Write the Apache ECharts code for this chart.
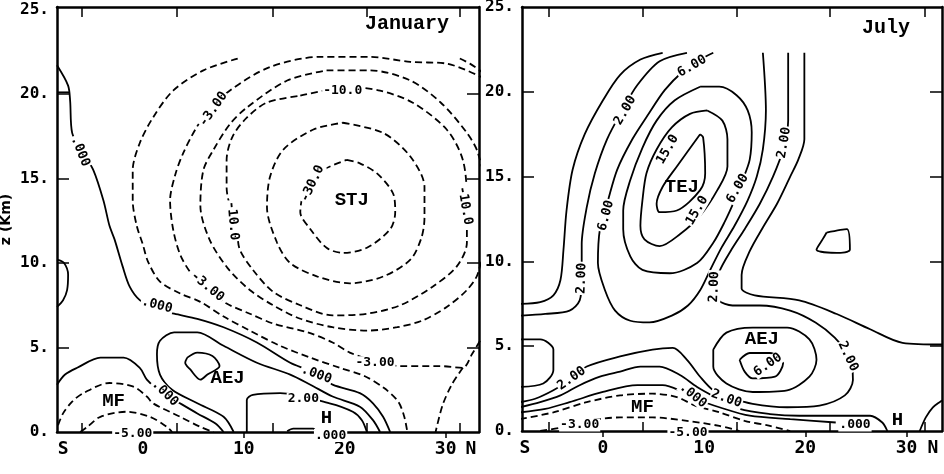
<!DOCTYPE html>
<html><head><meta charset="utf-8">
<script src="https://cdn.jsdelivr.net/npm/echarts@6/dist/echarts.min.js"></script>
<style>html,body{margin:0;padding:0;background:#fff}#c{width:944px;height:474px}</style>
</head><body><div id="c"></div>
<script>
// ---------- axis values ----------
const xTickVals = [0, 10, 20, 30];
const xLabelText = ['S', '0', '10', '20', '30', 'N'];
const janXLabelVals = [-7.9, 0, 10, 20, 30, 32.5];
const julXLabelVals = [-7.7, 0, 10, 20, 30, 32.6];
const janTopTicks = [-6.0, 3.4, 12.9, 22.2, 31.4];
const julTopTicks = [-5.4, 3.9, 13.2, 22.4, 31.8];
const yLabelVals = [0, 5, 10, 15, 20, 25];
const yTickVals = [5, 10, 15, 20];

// ---------- January contours (lat, km) ----------
// dashed (negative)
const janM30 = [[20.2,16.1],[21.5,15.9],[23.2,15.3],[24.8,14.1],[25.0,13.0],[24.5,12.0],[22.2,10.9],[19.8,10.6],[18.2,10.9],[16.6,12.0],[15.6,13.0],[15.9,14.0],[17.6,15.4],[20.2,16.1]];
const janM20 = [[19.8,18.3],[23.8,17.7],[26.5,16.3],[27.9,14.5],[27.9,12.7],[27.6,11.5],[26.5,10.2],[23.8,9.2],[20.5,8.8],[17.3,9.2],[14.6,10.0],[13.3,11.2],[12.3,13.3],[12.6,15.1],[13.9,16.7],[16.9,17.9],[19.8,18.3]];
const janM10 = [[15.6,19.9],[20.5,20.4],[23.5,20.2],[26.7,19.5],[30.1,17.9],[31.7,16.1],[32.1,13.7],[32.1,11.2],[31.1,9.8],[28.7,8.6],[25.5,7.5],[22.2,7.0],[18.8,6.9],[15.6,7.5],[12.9,8.3],[10.9,9.6],[9.6,10.8],[9.3,12.0],[8.3,14.5],[8.3,16.1],[8.9,17.5],[10.3,18.6],[12.3,19.5],[15.6,19.9]];
const janM6 = [[18.2,21.4],[22.5,21.4],[26.5,20.8],[29.5,19.5],[32.1,17.7],[33.2,16.5],[34.4,13.0],[33.2,9.4],[32.1,8.4],[30.1,7.4],[27.7,6.6],[25.2,6.2],[22.2,6.0],[18.8,6.2],[15.6,6.7],[12.9,7.5],[10.6,8.4],[8.4,9.7],[6.6,11.4],[5.7,13.4],[6.0,15.5],[7.0,16.7],[8.6,18.2],[10.3,19.2],[14.3,20.8],[18.2,21.4]];
const janM3 = [[33.9,20.9],[30.1,21.8],[26.5,21.9],[22.5,22.2],[17.6,22.2],[12.6,21.6],[8.6,20.2],[6.7,19.1],[5.4,18.1],[4.0,16.5],[3.2,15.2],[2.7,13.7],[3.0,12.0],[3.7,10.5],[4.9,9.3],[6.7,8.3],[8.3,7.6],[10.6,7.0],[13.0,6.4],[16.3,5.9],[18.8,5.3],[20.5,4.7],[23.0,4.2],[25.5,3.9],[29.4,3.9],[31.7,3.8],[32.6,4.6],[33.6,5.6]];
const janM3s = [[31.7,3.8],[30.6,2.8],[29.7,1.6],[29.0,0.0]];
const janM1 = [[9.4,22.1],[6.0,21.4],[3.0,20.2],[1.0,18.6],[-0.3,17.1],[-1.0,15.5],[-1.0,13.7],[-0.6,12.2],[0.0,11.1],[0.5,10.1],[1.7,8.9],[3.7,8.2],[5.7,7.7],[8.1,6.8],[10.6,6.0],[13.6,5.1],[16.6,4.4],[19.5,3.8],[22.0,3.3],[23.9,2.6],[25.3,1.8],[25.9,0.9],[26.2,0.0]];
const janM1r = [[31.4,22.1],[32.4,21.8],[33.6,21.3]];
const janMFo = [[-8.4,0.4],[-7.9,1.1],[-7.0,1.8],[-5.9,2.3],[-3.3,2.9],[-1.0,2.7],[0.4,2.1],[1.0,1.7],[3.7,0.9],[5.7,0.3],[7.0,0.0]];
const janMFi = [[-6.2,0.0],[-5.5,0.3],[-4.2,0.9],[-1.6,1.2],[0.7,0.9],[2.4,0.3],[2.9,0.0]];
// solid (zero / positive)
const janZ1 = [[-8.5,21.7],[-7.4,20.5],[-7.2,19.6],[-7.0,17.7],[-6.0,16.6],[-4.9,15.5],[-3.9,13.7],[-3.3,12.2],[-2.8,11.4],[-2.0,9.8],[-1.3,8.6],[-0.3,7.8],[1.2,7.3],[3.1,7.0],[5.4,6.7],[8.0,6.2],[11.3,5.3],[14.6,4.1],[16.6,3.6],[18.8,2.8],[21.5,2.3],[22.8,1.7],[23.8,0.9],[24.5,0.0]];
const janZtri = [[-8.5,20.1],[-7.3,20.1]];
const janZloop = [[-8.5,10.2],[-7.8,10.0],[-7.4,9.3],[-7.5,8.4],[-7.9,7.8],[-8.5,7.4]];
const janZ2 = [[-8.5,2.8],[-7.7,3.4],[-6.5,3.8],[-4.2,4.4],[-1.9,4.4],[-0.3,3.8],[0.4,3.1],[1.7,2.4],[3.4,1.8],[5.4,1.1],[7.2,0.5],[8.0,0.0]];
const janP2 = [[9.0,0.0],[8.0,0.9],[5.4,1.7],[2.9,2.5],[1.7,3.4],[1.4,4.6],[1.7,5.4],[3.1,5.9],[5.4,5.9],[8.0,5.1],[11.3,4.1],[14.6,3.4],[16.6,2.8],[18.8,2.1],[21.5,1.5],[22.8,0.7],[23.5,0.0]];
const janP200 = [[10.3,0.0],[10.3,1.9],[10.9,2.2],[13.6,2.3],[18.5,1.7],[20.8,1.2],[21.7,0.7],[22.2,0.0]];
const janPin = [[4.4,4.4],[5.4,4.7],[6.9,4.5],[7.6,3.9],[6.4,3.4],[5.7,3.1],[4.7,3.7],[4.2,4.1],[4.4,4.4]];
const janHbump = [[14.3,0.05],[14.9,0.2],[16.9,0.2],[17.1,0.05]];

// ---------- July contours ----------
const julAL = [[5.9,22.3],[3.7,21.9],[1.7,21.0],[0.0,19.5],[-1.8,17.5],[-3.0,15.4],[-3.6,13.0],[-3.9,10.7],[-4.2,8.9],[-4.9,8.0],[-6.2,7.6],[-8.2,7.5]];
const julAR = [[19.9,22.3],[19.9,17.2],[19.3,16.0],[18.5,15.0],[17.2,13.4],[15.8,12.0],[14.5,10.6],[13.7,9.2],[13.7,8.4],[15.0,8.0],[19.4,7.7],[23.1,6.9],[26.4,6.0],[29.6,5.2],[33.5,5.1]];
const julBL = [[8.3,22.3],[5.6,21.8],[3.4,20.4],[1.9,18.9],[0.4,17.2],[-0.8,15.2],[-1.6,13.2],[-2.1,11.0],[-2.1,8.9],[-2.3,7.7],[-3.3,7.1],[-5.7,6.9],[-8.2,6.8]];
const julBR = [[18.3,22.3],[18.3,18.3],[17.8,16.6],[16.8,15.0],[15.5,13.4],[14.0,11.9],[12.7,10.7],[11.5,9.4],[11.1,8.3],[11.4,7.7],[12.8,7.4],[15.5,7.4],[18.5,7.1],[21.0,6.4],[22.9,5.5],[24.4,4.3],[24.7,3.0],[23.9,2.1],[21.4,1.5],[18.2,1.4],[14.8,1.6],[12.5,2.0],[10.9,2.4],[9.6,3.2],[8.3,4.2],[6.9,4.9],[4.9,4.8],[1.7,4.4],[-1.6,3.8],[-3.3,3.0],[-4.9,2.4],[-6.7,1.9],[-8.2,1.7]];
const julT4 = [[10.9,22.3],[9.6,21.9],[7.9,21.2],[6.1,20.1],[4.4,18.6],[2.9,17.2],[1.4,15.4],[0.5,13.6],[-0.3,11.9],[-0.5,9.9],[0.2,8.3],[1.2,7.1],[2.7,6.5],[4.6,6.4],[6.8,6.8],[8.4,7.4],[9.6,8.3],[10.6,9.5],[11.7,10.8],[13.0,12.1],[14.3,13.6],[15.2,15.0],[15.8,16.6],[16.1,18.9],[15.8,22.3]];
const julT3 = [[9.6,20.3],[11.5,20.3],[13.2,19.8],[14.3,18.9],[14.7,17.6],[14.5,16.0],[13.8,14.8],[13.0,13.6],[12.0,12.3],[10.9,11.1],[9.3,9.9],[6.6,9.3],[3.9,9.5],[2.7,10.3],[2.0,11.9],[2.0,13.0],[2.7,14.8],[3.9,16.7],[5.3,18.3],[7.1,19.5],[9.6,20.3]];
const julT2 = [[10.3,18.9],[11.8,18.3],[12.3,17.2],[12.3,15.6],[11.3,14.2],[9.6,12.7],[7.6,11.6],[5.6,10.9],[4.1,11.3],[3.7,12.1],[3.9,13.6],[4.3,15.2],[5.3,16.6],[6.8,17.9],[8.6,18.7],[10.3,18.9]];
const julT1 = [[9.6,17.5],[9.9,17.3],[10.1,15.2],[9.6,14.2],[7.3,13.0],[5.6,12.9],[5.3,13.4],[5.9,14.4],[7.3,15.6],[9.6,17.5]];
const julAEJo = [[10.9,4.8],[12.2,5.8],[14.8,6.1],[18.2,6.1],[20.4,5.4],[21.1,4.2],[20.4,3.2],[18.2,2.4],[14.8,2.3],[12.2,2.8],[10.9,3.8],[10.9,4.8]];
const julAEJi = [[13.5,4.2],[14.5,4.6],[16.5,4.6],[17.8,4.0],[17.0,3.2],[14.8,3.1],[14.0,3.5],[13.5,4.2]];
const julSmall = [[22.1,11.7],[24.1,11.9],[24.4,10.7],[23.1,10.5],[21.1,10.7],[21.7,11.3],[22.1,11.7]];
const julLoopL = [[-8.2,5.4],[-6.2,5.4],[-4.9,4.8],[-4.9,3.6],[-5.9,2.8],[-8.2,2.6]];
const julD = [[-8.2,1.4],[-6.2,1.7],[-4.2,2.1],[-2.3,2.7],[-0.3,3.2],[1.7,3.5],[3.7,3.8],[5.6,3.8],[7.6,3.3],[9.3,2.6],[11.1,2.0],[13.5,1.3],[16.5,1.0],[19.4,0.9],[23.4,0.9],[26.4,0.9],[27.6,0.5],[28.1,0.0]];
const julE = [[-8.2,1.1],[-5.7,1.3],[-3.3,1.7],[0.0,2.3],[3.4,2.7],[5.9,2.7],[7.9,2.3],[9.6,1.8],[11.5,1.4],[14.5,0.9],[18.5,0.7],[23.0,0.5]];
const julCorner = [[31.3,0.0],[31.9,0.8],[32.6,1.4],[33.5,1.8]];
const julF = [[-8.2,0.7],[-4.9,1.1],[-1.6,1.7],[1.7,2.1],[4.9,2.2],[7.3,2.0],[9.1,1.5],[11.5,1.1],[14.0,0.6],[16.5,0.3],[18.5,0.0]];
const julG = [[-6.2,0.0],[-4.2,0.2],[-1.6,0.6],[1.7,0.8],[4.9,0.8],[8.3,0.6],[11.5,0.3],[13.5,0.0]];

// ---------- labels ----------
const janLabels = [[7.0,19.1,'-3.00'],[19.8,20.2,'-10.0'],[8.9,12.5,'-10.0'],[31.9,13.4,'-10.0'],[16.8,14.7,'-30.0'],[23.0,4.1,'-3.00'],[6.4,8.6,'-3.00'],[-6.2,16.6,'.000'],[1.4,7.5,'.000'],[17.2,3.4,'.000'],[2.2,2.3,'.000'],[15.9,1.95,'2.00'],[-1.0,-0.1,'-5.00'],[18.6,-0.2,'.000']];
const janLabelRot = [55,0,-85,-80,65,0,-40,-68,-15,-20,-45,0,0,0];
const janNames = [[20.7,13.7,'STJ'],[8.4,3.2,'AEJ'],[-2.9,1.8,'MF'],[18.2,0.8,'H']];
const julLabels = [[2.2,18.9,'2.00'],[-2.1,9.0,'2.00'],[8.8,21.5,'6.00'],[0.3,12.7,'6.00'],[13.3,14.3,'6.00'],[6.4,16.6,'15.0'],[9.3,13.0,'15.0'],[17.9,17.0,'2.00'],[11.0,8.5,'2.00'],[16.3,3.9,'6.00'],[24.2,4.4,'2.00'],[-3.1,3.1,'2.00'],[8.9,2.1,'.000'],[12.2,1.9,'2.00'],[-2.3,0.35,'-3.00'],[8.4,-0.1,'-5.00'],[24.9,0.35,'.000']];
const julLabelRot = [60,88,30,75,60,60,60,80,88,35,-65,35,-40,-20,0,0,0];
const julNames = [[7.8,14.4,'TEJ'],[15.7,5.4,'AEJ'],[3.9,1.4,'MF'],[29.1,0.65,'H']];

// ---------- build ----------
const MONO = '"DejaVu Sans Mono", monospace';
const NAMEF = '"Liberation Mono", monospace';
function nearestIdx(arr, v){ let b=0; for(let i=1;i<arr.length;i++){ if(Math.abs(arr[i]-v)<Math.abs(arr[b]-v)) b=i; } return b; }
const axLine = {show:true, onZero:false, lineStyle:{color:'#000', width:2.5}};
function xAxes(gi, min, max, labVals, topTicks){
  return [
    {gridIndex:gi, type:'value', min, max, position:'bottom', axisLine:axLine, splitLine:{show:false},
     axisTick:{show:true, inside:false, length:6, customValues:xTickVals, lineStyle:{color:'#000', width:1.5}},
     axisLabel:{show:true, customValues:labVals, formatter:v=>xLabelText[nearestIdx(labVals,v)], color:'#000', fontFamily:MONO, fontWeight:'bold', fontSize:18, margin:8}},
    {gridIndex:gi, type:'value', min, max, position:'top', axisLine:axLine, splitLine:{show:false},
     axisTick:{show:true, inside:true, length:10, customValues:topTicks, lineStyle:{color:'#000', width:1.5}}, axisLabel:{show:false}},
    {gridIndex:gi, type:'value', min, max, position:'bottom', axisLine:{show:false}, splitLine:{show:false},
     axisTick:{show:true, inside:true, length:9, customValues:topTicks, lineStyle:{color:'#000', width:1.5}}, axisLabel:{show:false}}
  ];
}
function yAxes(gi, max, withName){
  const left = {gridIndex:gi, type:'value', min:0, max, position:'left', axisLine:axLine, splitLine:{show:false},
     axisTick:{show:true, inside:true, length:12, customValues:yTickVals, lineStyle:{color:'#000', width:1.5}},
     axisLabel:{show:true, customValues:yLabelVals, formatter:v=>v+'.', color:'#000', fontFamily:MONO, fontWeight:'bold', fontSize:16, margin:8}};
  if (withName) Object.assign(left, {name:'z (Km)', nameLocation:'middle', nameRotate:90, nameGap:44,
     nameTextStyle:{color:'#000', fontFamily:'"DejaVu Sans"', fontSize:14, fontWeight:'bold'}});
  const right = {gridIndex:gi, type:'value', min:0, max, position:'right', axisLine:axLine, splitLine:{show:false},
     axisTick:{show:true, inside:true, length:12, customValues:yTickVals, lineStyle:{color:'#000', width:1.5}}, axisLabel:{show:false}};
  return [left, right];
}
function line(data, xi, yi, dashed){
  return {type:'line', xAxisIndex:xi, yAxisIndex:yi, data, showSymbol:false, symbol:'none', smooth:0.3, silent:true, z:2,
    lineStyle:{color:'#000', width:1.8, type: dashed ? [7,4] : 'solid'}};
}
function labels(arr, rots, xi, yi, size, fam, bg){
  return {type:'scatter', xAxisIndex:xi, yAxisIndex:yi, symbolSize:0, clip:false, silent:true, z:10,
    itemStyle:{color:'#000', opacity:1},
    label:{show:true, position:'inside', color:'#000', opacity:1, textBorderWidth:0, fontFamily:fam, fontWeight:'bold', fontSize:size,
      backgroundColor: bg ? '#fff' : 'transparent', padding: bg ? [0,1] : 0},
    data: arr.map((d,i)=>({value:[d[0],d[1]], label:{formatter:d[2], rotate: rots ? rots[i] : 0}}))};
}

const janDashed = [janM30, janM20, janM10, janM6, janM3, janM3s, janM1, janM1r, janMFo, janMFi];
const janSolid = [janZ1, janZtri, janZloop, janZ2, janP2, janP200, janPin, janHbump];
const julDashed = [julF, julG];
const julSolid = [julAL, julAR, julBL, julBR, julT4, julT3, julT2, julT1, julAEJo, julAEJi, julSmall, julLoopL, julD, julE, julCorner];

const series = [];
janDashed.forEach(d=>series.push(line(d,0,0,true)));
janSolid.forEach(d=>series.push(line(d,0,0,false)));
julDashed.forEach(d=>series.push(line(d,3,2,true)));
julSolid.forEach(d=>series.push(line(d,3,2,false)));
series.push(labels(janLabels, janLabelRot, 0, 0, 13, MONO, true));
series.push(labels(janNames, null, 0, 0, 19, NAMEF, false));
series.push(labels(julLabels, julLabelRot, 3, 2, 13, MONO, true));
series.push(labels(julNames, null, 3, 2, 19, NAMEF, false));

const chart = echarts.init(document.getElementById('c'));
chart.setOption({
  animation:false,
  backgroundColor:'#fff',
  grid:[
    {left:57, top:7, width:422, height:425, outerBoundsMode:'none', containLabel:false},
    {left:522, top:7, width:420, height:424, outerBoundsMode:'none', containLabel:false}
  ],
  xAxis:[...xAxes(0,-8.5,33.3,janXLabelVals,janTopTicks), ...xAxes(1,-8.0,33.5,julXLabelVals,julTopTicks)],
  yAxis:[...yAxes(0,25.15,true), ...yAxes(1,25,false)],
  graphic:[
    {type:'text', left:365, top:14, style:{text:'January', font:'bold 20px "Liberation Mono"', fill:'#000'}},
    {type:'text', left:862, top:18, style:{text:'July', font:'bold 20px "Liberation Mono"', fill:'#000'}}
  ],
  series
});
</script></body></html>
